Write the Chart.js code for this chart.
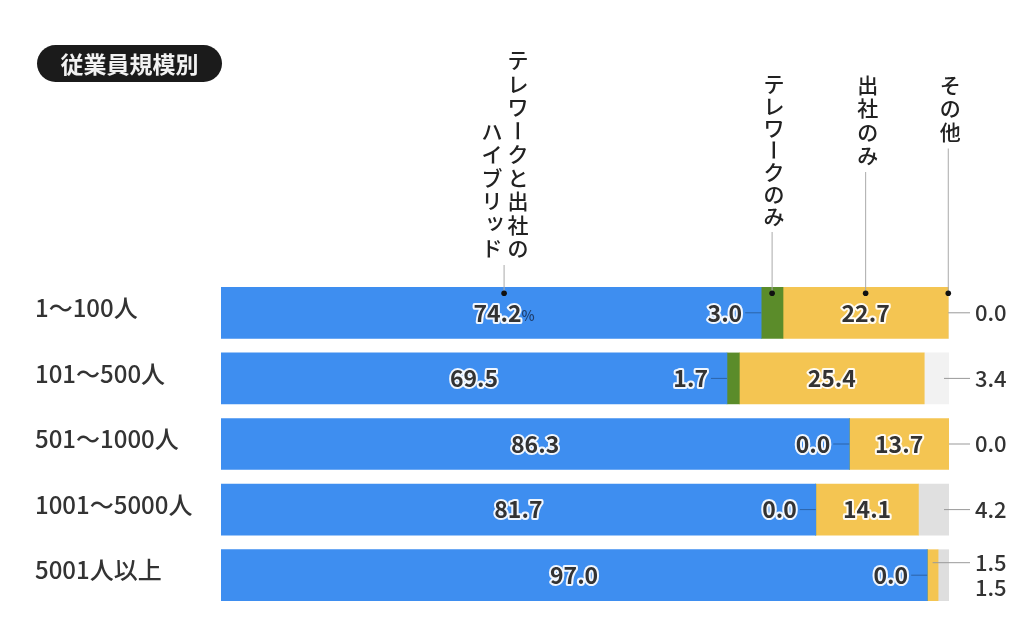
<!DOCTYPE html>
<html>
<head>
<meta charset="utf-8">
<script src="https://cdn.jsdelivr.net/npm/chart.js@4"></script>
<style>
  html, body { margin: 0; padding: 0; background: #fff; }
  canvas { display: block; }
</style>
</head>
<body>
<canvas id="myChart" width="1024" height="627"></canvas>
<script>
// data (%)
var categories = ['1〜100人', '101〜500人', '501〜1000人', '1001〜5000人', '5001人以上'];
var hybrid = [74.2, 69.5, 86.3, 81.7, 97.0];
var teleworkOnly = [3.0, 1.7, 0.0, 0.0, 0.0];
var officeOnly = [22.7, 25.4, 13.7, 14.1, 1.5];
var other = [0.0, 3.4, 0.0, 4.2, 1.5];
var seriesNames = ['テレワークと出社のハイブリッド', 'テレワークのみ', '出社のみ', 'その他'];
// how each series name is broken into vertical columns (right column first)
var headerColumns = [['テレワークと出社の', 'ハイブリッド'], ['テレワークのみ'], ['出社のみ'], ['その他']];
var groupTitle = '従業員規模別';

var FONT = '"Noto Sans CJK JP", "Noto Sans", sans-serif';
Chart.defaults.font.family = FONT;

/* ---------helpers--------- */
function drawVertical(ctx, text, cx, top, adv) {
    for (var k = 0; k < text.length; k++) {
        var c = text[k];
        var cy = top + k * adv + adv / 2;
        if (c === 'ー') {
            ctx.save();
            ctx.translate(cx, cy);
            ctx.rotate(Math.PI / 2);
            ctx.fillText(c, 0, 0);
            ctx.restore();
        } else if (c === 'ッ') {
            ctx.fillText(c, cx + 3, cy - 4);
        } else {
            ctx.fillText(c, cx, cy);
        }
    }
}

function outlined(ctx, text, x, y, align) {
    ctx.textAlign = align;
    ctx.lineJoin = 'round';
    ctx.lineWidth = 4;
    ctx.strokeStyle = 'rgba(255,255,255,0.92)';
    ctx.strokeText(text, x, y);
    ctx.fillStyle = '#333';
    ctx.fillText(text, x, y);
}

function line(ctx, x1, y1, x2, y2, color) {
    ctx.beginPath();
    ctx.moveTo(x1, y1);
    ctx.lineTo(x2, y2);
    ctx.strokeStyle = color;
    ctx.lineWidth = 1;
    ctx.stroke();
}

//title pill top-left
const titlePill = {
    id: 'titlePill',
    afterDraw(chart) {
        const ctx = chart.ctx;
        ctx.save();
        ctx.fillStyle = '#1b1b1b';
        ctx.beginPath();
        ctx.roundRect(37, 45, 185, 37, 18.5);
        ctx.fill();
        ctx.fillStyle = '#f2f2f2';
        ctx.font = 'bold 23px ' + FONT;
        ctx.textAlign = 'center';
        ctx.textBaseline = 'middle';
        ctx.fillText(groupTitle, 129.5, 64);
        ctx.restore();
    }
};

//value labels + vertical series headers
const barLabels = {
    id: 'barLabels',
    afterDatasetsDraw(chart) {
        const ctx = chart.ctx;
        const m = [0, 1, 2, 3].map(i => chart.getDatasetMeta(i).data);
        const rightX = chart.chartArea.right;
        ctx.save();
        ctx.textBaseline = 'middle';
        let hybridDotX = 0;

        for (let j = 0; j < categories.length; j++) {
            const hb = m[0][j], tw = m[1][j], of = m[2][j], ot = m[3][j];
            const y = hb.y;

            // hybrid
            ctx.font = 'bold 23px ' + FONT;
            const cx = (hb.base + hb.x) / 2;
            const t = hybrid[j].toFixed(1);
            if (j === 0) {
                const w1 = ctx.measureText(t).width;
                ctx.font = '500 14px ' + FONT;
                const w2 = ctx.measureText('%').width;
                const sx = cx - (w1 + w2) / 2 + 13;
                ctx.font = 'bold 23px ' + FONT;
                outlined(ctx, t, sx, y, 'left');
                ctx.font = '500 14px ' + FONT;
                ctx.fillStyle = '#1f3f6e';
                ctx.textAlign = 'left';
                ctx.fillText('%', sx + w1, y + 3);
                hybridDotX = sx + (w1 + w2) / 2;
            } else {
                outlined(ctx, t, cx, y, 'center');
            }

            // telework only: left of the green segment with a short leader
            line(ctx, hb.x - 16, y, hb.x, y, 'rgba(0,0,0,0.3)');
            ctx.font = 'bold 23px ' + FONT;
            outlined(ctx, teleworkOnly[j].toFixed(1), hb.x - 19, y, 'right');

            // office only
            let otherY = y;
            if (officeOnly[j] >= 5) {
                outlined(ctx, officeOnly[j].toFixed(1), (of.base + of.x) / 2, y, 'center');
            } else {
                const uy = y - 12.5;
                otherY = y + 12.5;
                line(ctx, (of.base + of.x) / 2, uy, rightX + 21, uy, '#999');
                ctx.font = '500 22px ' + FONT;
                ctx.fillStyle = '#333';
                ctx.textAlign = 'left';
                ctx.fillText(officeOnly[j].toFixed(1), rightX + 26, uy);
            }

            // other: outside right
            if (otherY === y) {
                const sx = (ot.x - ot.base) > 1 ? ot.x - 5 : ot.x;
                line(ctx, sx, y, rightX + 21, y, '#999');
            }
            ctx.font = '500 22px ' + FONT;
            ctx.fillStyle = '#333';
            ctx.textAlign = 'left';
            ctx.fillText(other[j].toFixed(1), rightX + 26, otherY);
        }

        // headers above the first bar
        const first = m.map(d => d[0]);
        const dotY = first[0].y - first[0].height / 2 + 6;
        const dotXs = [
            hybridDotX,
            (first[1].base + first[1].x) / 2,
            (first[2].base + first[2].x) / 2,
            first[3].x
        ];
        ctx.font = '500 21px ' + FONT;
        ctx.fillStyle = '#222';
        ctx.textAlign = 'center';
        ctx.textBaseline = 'middle';
        for (let i = 0; i < seriesNames.length; i++) {
            const dx = dotXs[i];
            let bottom;
            if (i === 0) {
                bottom = 260;
                drawVertical(ctx, headerColumns[0][0], dx + 14, bottom - 9 * 23.5, 23.5);
                drawVertical(ctx, headerColumns[0][1], dx - 12, bottom - 6 * 23.5, 23.5);
            } else {
                const adv = i === 1 ? 22 : 23.5;
                const col = headerColumns[i][0];
                drawVertical(ctx, col, dx + 2, 73, adv);
                bottom = 73 + col.length * adv;
            }
            line(ctx, dx, bottom + 5, dx, dotY, '#aaa');
            ctx.beginPath();
            ctx.arc(dx, dotY, 2.8, 0, Math.PI * 2);
            ctx.fillStyle = '#111';
            ctx.fill();
            ctx.fillStyle = '#222';
        }
        ctx.restore();
    }
};

/* ---------chart setup--------- */
var data = {
    labels: categories,
    datasets: [
        { label: seriesNames[0], data: hybrid, backgroundColor: '#3e8ef0' },
        { label: seriesNames[1], data: teleworkOnly, backgroundColor: '#5b8c2a' },
        { label: seriesNames[2], data: officeOnly, backgroundColor: '#f4c552' },
        { label: seriesNames[3], data: other,
          backgroundColor: ['#e3e3e3', '#f2f2f2', '#e3e3e3', '#e0e0e0', '#dedede'] }
    ]
};

const config = {
    type: 'bar',
    data,
    plugins: [barLabels, titlePill],
    options: {
        indexAxis: 'y',
        responsive: false,
        animation: false,
        barThickness: 51,
        borderWidth: 0,
        layout: { padding: { left: 35, top: 280, right: 75, bottom: 19 } },
        plugins: {
            legend: { display: false },
            tooltip: { enabled: false }
        },
        scales: {
            x: { stacked: true, display: false, min: 0, max: 100 },
            y: {
                stacked: true,
                grid: { display: false },
                border: { display: false },
                afterFit(scale) { scale.width = 186; },
                ticks: {
                    crossAlign: 'far',
                    padding: 0,
                    labelOffset: -5,
                    color: '#333',
                    font: { size: 24, weight: '500' }
                }
            }
        }
    }
};

var myChart = new Chart(document.getElementById('myChart'), config);
</script>
</body>
</html>
